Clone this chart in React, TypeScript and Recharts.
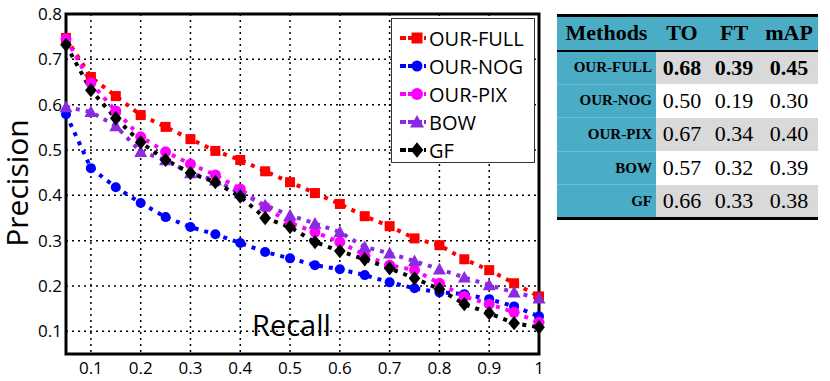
import React from "react";
import { LineChart, Line, XAxis, YAxis, CartesianGrid, ReferenceArea } from "recharts";

const recall = [0.05, 0.1, 0.15, 0.2, 0.25, 0.3, 0.35, 0.4, 0.45, 0.5, 0.55, 0.6, 0.65, 0.7, 0.75, 0.8, 0.85, 0.9, 0.95, 1.0];
const ourFull = [0.747, 0.661, 0.619, 0.577, 0.551, 0.524, 0.498, 0.478, 0.453, 0.429, 0.405, 0.381, 0.354, 0.332, 0.305, 0.29, 0.259, 0.235, 0.206, 0.177];
const ourNog = [0.579, 0.46, 0.418, 0.383, 0.352, 0.33, 0.314, 0.295, 0.275, 0.261, 0.246, 0.237, 0.224, 0.208, 0.195, 0.186, 0.182, 0.171, 0.155, 0.133];
const ourPix = [0.745, 0.648, 0.586, 0.529, 0.496, 0.469, 0.445, 0.414, 0.374, 0.339, 0.319, 0.297, 0.268, 0.246, 0.235, 0.206, 0.177, 0.16, 0.142, 0.12];
const bow = [0.595, 0.584, 0.553, 0.496, 0.478, 0.449, 0.433, 0.405, 0.378, 0.356, 0.338, 0.319, 0.286, 0.272, 0.255, 0.237, 0.219, 0.202, 0.186, 0.173];
const gf = [0.732, 0.632, 0.57, 0.517, 0.478, 0.449, 0.429, 0.397, 0.35, 0.33, 0.297, 0.277, 0.259, 0.239, 0.217, 0.193, 0.16, 0.14, 0.118, 0.109];

const xTicks = [0.1, 0.2, 0.3, 0.4, 0.5, 0.6, 0.7, 0.8, 0.9, 1];
const yTicks = [0.1, 0.2, 0.3, 0.4, 0.5, 0.6, 0.7, 0.8];

const methods = ["OUR-FULL", "OUR-NOG", "OUR-PIX", "BOW", "GF"];
const toScores = ["0.68", "0.50", "0.67", "0.57", "0.66"];
const ftScores = ["0.39", "0.19", "0.34", "0.32", "0.33"];
const mapScores = ["0.45", "0.30", "0.40", "0.39", "0.38"];

const data = recall.map((r, i) => ({
  recall: r,
  full: ourFull[i],
  nog: ourNog[i],
  pix: ourPix[i],
  bow: bow[i],
  gf: gf[i]
}));

type Shape = "square" | "circle" | "triangle" | "diamond";

const series: { key: string; name: string; color: string; shape: Shape; size: number }[] = [
  { key: "full", name: "OUR-FULL", color: "#ff0000", shape: "square", size: 10 },
  { key: "nog", name: "OUR-NOG", color: "#0000ff", shape: "circle", size: 10 },
  { key: "pix", name: "OUR-PIX", color: "#ff00ff", shape: "circle", size: 11 },
  { key: "bow", name: "BOW", color: "#8a2be2", shape: "triangle", size: 13 },
  { key: "gf", name: "GF", color: "#000000", shape: "diamond", size: 13 }
];

const marker = (shape: Shape, cx: number, cy: number, s: number, color: string, key?: string) => {
  const h = s / 2;
  if (shape === "square") return <rect key={key} x={cx - h} y={cy - h} width={s} height={s} fill={color} />;
  if (shape === "circle") return <circle key={key} cx={cx} cy={cy} r={h} fill={color} />;
  if (shape === "triangle")
    return <polygon key={key} points={`${cx},${cy - h} ${cx + h},${cy + h * 0.8} ${cx - h},${cy + h * 0.8}`} fill={color} />;
  return <polygon key={key} points={`${cx},${cy - h * 1.1} ${cx + h * 0.9},${cy} ${cx},${cy + h * 1.1} ${cx - h * 0.9},${cy}`} fill={color} />;
};

const LegendBox = () => (
  <div style={{
    position: "absolute",
    left: 391,
    top: 18,
    width: 144,
    height: 145,
    border: "1px solid #333",
    background: "#fff",
    boxSizing: "border-box",
    paddingTop: 5
  }}>
    {series.map(s => (
      <div key={s.key} style={{ display: "flex", alignItems: "center", height: 28 }}>
        <svg width={28} height={20} style={{ marginLeft: 6 }}>
          <line x1={2} y1={10} x2={28} y2={10} stroke={s.color} strokeWidth={4} strokeDasharray="6 2" />
          {marker(s.shape, 19, 10, s.size + 1, s.color)}
        </svg>
        <span style={{ fontFamily: "Open Sans", fontSize: 20, marginLeft: 3, color: "#000" }}>{s.name}</span>
      </div>
    ))}
  </div>
);

const cell: React.CSSProperties = { padding: 0, textAlign: "center" };

const App = () => {
  return (
    <div style={{ position: "absolute", left: 0, top: 0, width: 830, height: 381, background: "#fff" }}>
      <LineChart width={550} height={381} data={data} margin={{ top: 14, right: 11, bottom: 0, left: 0 }}>
        <CartesianGrid stroke="#000" strokeWidth={1.5} strokeDasharray="2 4" />
        <XAxis dataKey="recall" type="number" domain={[0.05, 1]} ticks={xTicks} tickLine={false} tickSize={6}
          axisLine={false} height={27} interval={0}
          tick={{ fill: "#000", fontSize: 17, fontFamily: "Open Sans" }} />
        <YAxis type="number" domain={[0.05, 0.8]} ticks={yTicks} tickLine={false} tickSize={2} width={66}
          axisLine={false} interval={0}
          tick={{ fill: "#000", fontSize: 17, fontFamily: "Open Sans" }} />
        <ReferenceArea x1={0.05} x2={1} y1={0.05} y2={0.8} fill="none" stroke="#000" strokeWidth={3} ifOverflow="visible" />
        {series.map(s => (
          <Line key={s.key} dataKey={s.key} name={s.name} stroke={s.color} strokeWidth={4} strokeDasharray="4 6"
            isAnimationActive={false}
            dot={(p: any) => marker(s.shape, p.cx, p.cy, s.size, s.color, `${s.key}-${p.index}`)}
            activeDot={false} />
        ))}
      </LineChart>

      <LegendBox />

      <svg width={40} height={381} style={{ position: "absolute", left: 0, top: 0 }}>
        <text x={0} y={0} transform="translate(28, 183) rotate(-90)" textAnchor="middle"
          fontFamily="Open Sans" fontSize={30} fill="#000">Precision</text>
      </svg>
      <div style={{
        position: "absolute", left: 252, top: 305, fontFamily: "Open Sans", fontSize: 29, color: "#000"
      }}>Recall</div>

      <table style={{
        position: "absolute", left: 557, top: 14, width: 261, borderCollapse: "collapse",
        fontFamily: "Liberation Serif", color: "#000", borderTop: "3px solid #000", borderBottom: "3px solid #000"
      }}>
        <colgroup>
          <col style={{ width: 99 }} />
          <col style={{ width: 52 }} />
          <col style={{ width: 52 }} />
          <col style={{ width: 58 }} />
        </colgroup>
        <thead>
          <tr style={{ background: "#4bacc6", height: 35, borderBottom: "2px solid #000", fontSize: 22, fontWeight: "bold" }}>
            <th style={cell}>Methods</th>
            <th style={cell}>TO</th>
            <th style={cell}>FT</th>
            <th style={cell}>mAP</th>
          </tr>
        </thead>
        <tbody>
          {methods.map((m, i) => (
            <tr key={m} style={{ height: 33.6, background: i % 2 === 0 ? "#d9d9d9" : "#fff", fontSize: 22, fontWeight: i === 0 ? "bold" : "normal" }}>
              <td style={{ ...cell, background: "#4bacc6", textAlign: "right", paddingRight: 4, fontSize: 15, fontWeight: "bold",
                borderTop: i > 0 ? "1px solid #6cc0d6" : undefined }}>{m}</td>
              <td style={cell}>{toScores[i]}</td>
              <td style={cell}>{ftScores[i]}</td>
              <td style={cell}>{mapScores[i]}</td>
            </tr>
          ))}
        </tbody>
      </table>
    </div>
  );
};

export default App;
